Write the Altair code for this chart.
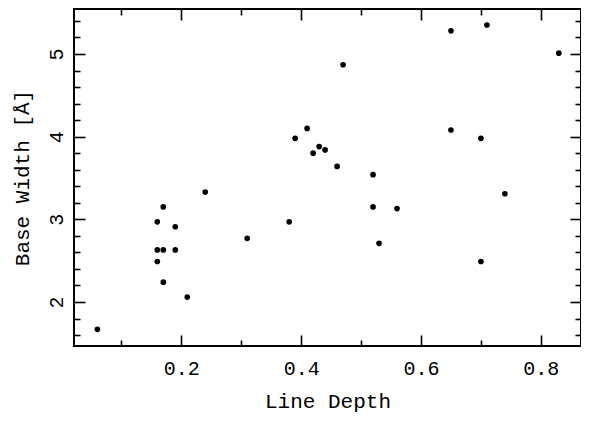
import altair as alt
import pandas as pd

# Data
depth = [0.06, 0.16, 0.16, 0.17, 0.19, 0.16, 0.17, 0.19, 0.17, 0.21,
         0.24, 0.31, 0.38, 0.39, 0.41, 0.42, 0.43, 0.44, 0.46, 0.47,
         0.52, 0.52, 0.53, 0.56, 0.65, 0.65, 0.71, 0.70, 0.74, 0.70, 0.83]
base_width = [1.67, 2.49, 2.63, 2.63, 2.63, 2.97, 3.15, 2.91, 2.24, 2.06,
              3.33, 2.77, 2.97, 3.98, 4.10, 3.80, 3.88, 3.84, 3.64, 4.87,
              3.54, 3.15, 2.71, 3.13, 5.28, 4.08, 5.35, 3.98, 3.31, 2.49, 5.01]

x_major = [0.2, 0.4, 0.6, 0.8]
x_minor = [0.1, 0.3, 0.5, 0.7]
y_major = [2, 3, 4, 5]
y_minor = [1.6, 1.8, 2.2, 2.4, 2.6, 2.8, 3.2, 3.4, 3.6, 3.8,
           4.2, 4.4, 4.6, 4.8, 5.2, 5.4]

df = pd.DataFrame({"depth": depth, "width": base_width})

FONT = "Liberation Mono"
W, H = 507, 337

xs = alt.Scale(domain=[0.021, 0.867], nice=False, zero=False)
ys = alt.Scale(domain=[1.468, 5.544], nice=False, zero=False)

common = dict(domain=False, grid=False, tickColor="black", tickWidth=1.6)


def ax(values, orient, size, **kw):
    opts = dict(common)
    opts.update(kw)
    if "labels" not in kw:
        opts["labels"] = False
    if "title" not in kw:
        opts["title"] = ""
    return alt.Axis(values=values, orient=orient,
                    tickSize={"expr": str(-size)}, **opts)


x_bottom = ax(x_major, "bottom", 11, labels=True, labelFont=FONT,
              labelFontSize=20, labelColor="black", labelPadding=39,
              labelBaseline="alphabetic", labelFlush=False,
              labelExpr="format(datum.value, '.1f')",
              title="Line Depth", titleFont=FONT, titleFontSize=21,
              titleFontWeight="normal", titleColor="black",
              titleX=W / 2, titleY=61.5, titleAlign="center",
              titleBaseline="alphabetic")
y_left = ax(y_major, "left", 11, labels=True, labelFont=FONT,
            labelFontSize=20, labelColor="black", labelPadding=23,
            labelAngle=270, labelAlign="center", labelBaseline="alphabetic",
            labelFlush=False,
            title="Base Width [Å]", titleFont=FONT, titleFontSize=21,
            titleFontWeight="normal", titleColor="black",
            titleAngle=270, titleX=-46, titleY=H / 2, titleAlign="center",
            titleBaseline="alphabetic")

points = alt.Chart(df).mark_circle(size=32, color="black", opacity=1).encode(
    x=alt.X("depth:Q", scale=xs, axis=x_bottom),
    y=alt.Y("width:Q", scale=ys, axis=y_left),
)


def axis_layer(xa, ya):
    return alt.Chart(df).mark_point(opacity=0).encode(
        x=alt.X("depth:Q", scale=xs, axis=xa),
        y=alt.Y("width:Q", scale=ys, axis=ya),
    )


layers = [
    points,
    axis_layer(ax(x_minor, "bottom", 6), ax(y_minor, "left", 6)),
    axis_layer(ax(x_major, "top", 11), ax(y_major, "right", 11)),
    axis_layer(ax(x_minor, "top", 6), ax(y_minor, "right", 6)),
]

chart = alt.layer(*layers).resolve_axis(
    x="independent", y="independent"
).properties(
    width=W, height=H,
    autosize=alt.AutoSizeParams(type="none"),
    padding={"left": 66, "top": 1, "right": 0, "bottom": 67},
    background="white",
).configure_view(stroke="black", strokeWidth=2)

chart.save("out.html", embed_options={"renderer": "svg", "actions": False})
